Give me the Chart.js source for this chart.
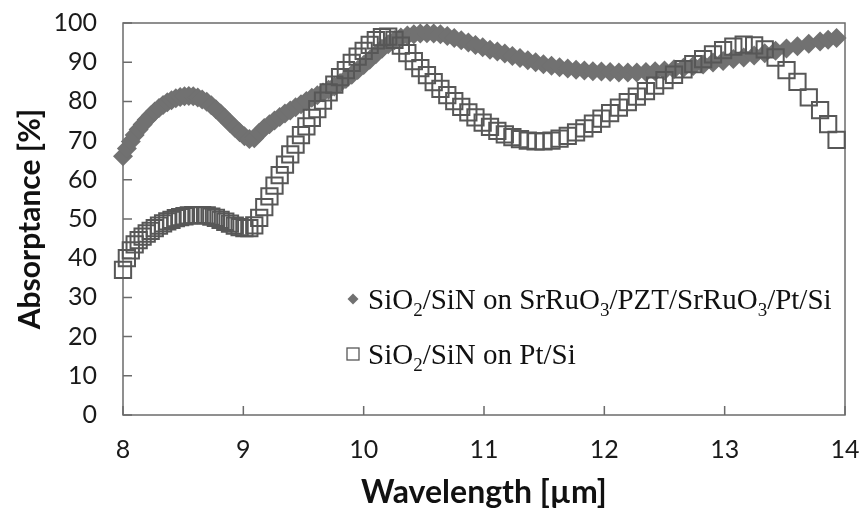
<!DOCTYPE html>
<html>
<head>
<meta charset="utf-8">
<script src="https://cdn.jsdelivr.net/npm/chart.js@4/dist/chart.umd.min.js"></script>
<style>
  html, body { margin: 0; padding: 0; background: #fff; }
  #wrap { width: 864px; height: 520px; }
</style>
</head>
<body>
<div id="wrap"><canvas id="c" width="864" height="520"></canvas></div>
<script>
// Wavelength grid of the measurement [µm]
const wavelength = [
  8.000, 8.032, 8.065, 8.097, 8.130, 8.163, 8.197, 8.230, 8.264, 8.299,
  8.333, 8.368, 8.403, 8.439, 8.475, 8.511, 8.547, 8.584, 8.621, 8.658,
  8.696, 8.734, 8.772, 8.811, 8.850, 8.889, 8.929, 8.969, 9.009, 9.050,
  9.091, 9.132, 9.174, 9.217, 9.259, 9.302, 9.346, 9.390, 9.434, 9.479,
  9.524, 9.569, 9.615, 9.662, 9.709, 9.756, 9.804, 9.852, 9.901, 9.950,
  10.000, 10.050, 10.101, 10.152, 10.204, 10.256, 10.309, 10.363, 10.417, 10.471,
  10.526, 10.582, 10.638, 10.695, 10.753, 10.811, 10.870, 10.929, 10.989, 11.050,
  11.111, 11.173, 11.236, 11.299, 11.364, 11.429, 11.494, 11.561, 11.628, 11.696,
  11.765, 11.834, 11.905, 11.976, 12.048, 12.121, 12.195, 12.270, 12.346, 12.422,
  12.500, 12.579, 12.658, 12.739, 12.821, 12.903, 12.987, 13.072, 13.158, 13.245,
  13.333, 13.423, 13.514, 13.605, 13.699, 13.793, 13.860, 13.930
];

// Absorptance [%] of SiO2/SiN on SrRuO3/PZT/SrRuO3/Pt/Si
const absorptanceOnPZT = [
  66.0, 68.0, 69.8, 71.4, 72.8, 74.1, 75.3, 76.4, 77.4, 78.3,
  79.1, 79.8, 80.3, 80.8, 81.1, 81.3, 81.4, 81.3, 81.0, 80.5,
  79.9, 79.0, 78.0, 76.9, 75.7, 74.5, 73.3, 72.1, 71.1, 70.4,
  70.6, 72.0, 73.2, 74.2, 75.1, 76.0, 76.9, 77.7, 78.5, 79.3,
  80.1, 80.9, 81.6, 82.3, 83.0, 83.8, 84.7, 85.7, 86.8, 88.0,
  89.3, 90.6, 92.0, 93.4, 94.6, 95.6, 96.3, 96.8, 97.1, 97.3,
  97.4, 97.3, 97.1, 96.7, 96.2, 95.6, 95.0, 94.4, 93.8, 93.2,
  92.7, 92.2, 91.6, 91.1, 90.5, 90.0, 89.5, 89.1, 88.7, 88.4,
  88.1, 87.9, 87.7, 87.6, 87.5, 87.4, 87.4, 87.4, 87.5, 87.7,
  87.9, 88.2, 88.6, 89.0, 89.4, 89.9, 90.3, 90.8, 91.2, 91.7,
  92.3, 92.9, 93.5, 94.1, 94.7, 95.3, 95.7, 96.2
];

// Absorptance [%] of SiO2/SiN on Pt/Si
const absorptanceOnPt = [
  37.0, 40.0, 42.0, 43.5, 44.6, 45.5, 46.3, 47.0, 47.7, 48.3,
  48.9, 49.4, 49.8, 50.2, 50.5, 50.7, 50.9, 51.0, 51.0, 51.0,
  50.9, 50.6, 50.3, 49.8, 49.3, 48.8, 48.3, 47.9, 47.7, 47.7,
  48.4, 50.3, 53.0, 55.8, 58.5, 61.2, 63.9, 66.5, 69.0, 71.4,
  73.6, 75.8, 78.0, 80.2, 82.3, 84.3, 86.2, 88.0, 89.8, 91.4,
  92.9, 94.4, 95.6, 96.4, 96.5, 95.7, 94.2, 92.3, 90.3, 88.5,
  86.7, 84.9, 83.2, 81.6, 80.1, 78.6, 77.2, 75.9, 74.6, 73.5,
  72.5, 71.6, 70.9, 70.4, 70.0, 69.8, 69.8, 70.0, 70.5, 71.2,
  72.1, 73.1, 74.3, 75.6, 77.0, 78.4, 79.8, 81.2, 82.6, 84.0,
  85.4, 86.8, 88.2, 89.5, 90.8, 92.0, 93.1, 94.0, 94.5, 94.3,
  93.3, 91.2, 88.0, 85.0, 81.0, 77.8, 74.2, 70.2
];

const xTicks = [8, 9, 10, 11, 12, 13, 14];
const yTicks = [0, 10, 20, 30, 40, 50, 60, 70, 80, 90, 100];

// Legend entries as runs of normal text and subscripts
const legendPZT = [['SiO', false], ['2', true], ['/SiN on SrRuO', false], ['3', true],
                   ['/PZT/SrRuO', false], ['3', true], ['/Pt/Si', false]];
const legendPt = [['SiO', false], ['2', true], ['/SiN on Pt/Si', false]];

const DIAMOND = '#717171';
const SQUARE = '#575757';
const AXIS = '#6b6b6b';

const toPoints = (xs, ys) => xs.map((x, i) => ({ x: x, y: ys[i] }));

// Keep the plot box fixed: no extra room reserved for edge labels
function fixBox(s, size) {
  if (s.isHorizontal()) s.height = size; else s.width = size;
  s.paddingTop = 0;
  s.paddingBottom = 0;
  s.paddingLeft = 0;
  s.paddingRight = 0;
}

// Box frame with inward tick marks
const framePlugin = {
  id: 'frame',
  beforeDatasetsDraw(chart) {
    const { ctx, chartArea: a, scales } = chart;
    ctx.save();
    ctx.strokeStyle = AXIS;
    ctx.lineWidth = 1.5;
    ctx.strokeRect(a.left, a.top, a.right - a.left, a.bottom - a.top);
    ctx.beginPath();
    yTicks.forEach(v => {
      const py = scales.y.getPixelForValue(v);
      ctx.moveTo(a.left, py);
      ctx.lineTo(a.left + 9, py);
    });
    xTicks.forEach(v => {
      const px = scales.x.getPixelForValue(v);
      ctx.moveTo(px, a.bottom);
      ctx.lineTo(px, a.bottom - 9);
    });
    ctx.stroke();
    ctx.restore();
  }
};

// In-plot legend with chemical subscripts
function drawRuns(ctx, runs, x, y) {
  runs.forEach(([t, sub]) => {
    ctx.font = sub ? '19px "Liberation Serif"' : '29px "Liberation Serif"';
    ctx.fillText(t, x, sub ? y + 7 : y);
    x += ctx.measureText(t).width;
  });
}
const legendPlugin = {
  id: 'subLegend',
  afterDatasetsDraw(chart) {
    const { ctx, chartArea: a } = chart;
    const x0 = a.left + 230;
    const cy1 = a.top + 276;
    const cy2 = cy1 + 55;
    ctx.save();
    ctx.fillStyle = DIAMOND;
    ctx.beginPath();
    ctx.moveTo(x0, cy1 - 5.5);
    ctx.lineTo(x0 + 5.5, cy1);
    ctx.lineTo(x0, cy1 + 5.5);
    ctx.lineTo(x0 - 5.5, cy1);
    ctx.closePath();
    ctx.fill();
    ctx.strokeStyle = SQUARE;
    ctx.lineWidth = 1.3;
    ctx.strokeRect(x0 - 6, cy2 - 6, 12, 12);
    ctx.fillStyle = '#111';
    ctx.textBaseline = 'alphabetic';
    drawRuns(ctx, legendPZT, x0 + 15, cy1 + 10);
    drawRuns(ctx, legendPt, x0 + 15, cy2 + 10);
    ctx.restore();
  }
};

new Chart(document.getElementById('c'), {
  type: 'scatter',
  data: {
    datasets: [
      {
        label: 'SiO2/SiN on SrRuO3/PZT/SrRuO3/Pt/Si',
        data: toPoints(wavelength, absorptanceOnPZT),
        pointStyle: 'rectRot',
        pointRadius: 10,
        backgroundColor: DIAMOND,
        borderColor: DIAMOND,
        borderWidth: 0,
        showLine: false,
        clip: false,
        order: 2
      },
      {
        label: 'SiO2/SiN on Pt/Si',
        data: toPoints(wavelength, absorptanceOnPt),
        pointStyle: 'rect',
        pointRadius: 11.5,
        backgroundColor: 'rgba(0,0,0,0)',
        borderColor: SQUARE,
        borderWidth: 2,
        showLine: false,
        clip: false,
        order: 1
      }
    ]
  },
  options: {
    responsive: false,
    devicePixelRatio: 1,
    animation: false,
    events: [],
    layout: { autoPadding: false, padding: { left: 0, right: 19, top: 23, bottom: 0 } },
    plugins: { legend: { display: false }, tooltip: { enabled: false } },
    scales: {
      x: {
        type: 'linear',
        min: 8,
        max: 14,
        afterBuildTicks: s => { s.ticks = xTicks.map(v => ({ value: v })); },
        afterFit: s => fixBox(s, 105),
        grid: { display: false, drawTicks: false },
        border: { display: false },
        ticks: { padding: 20, color: '#1a1a1a', font: { family: 'Lato', size: 25 } },
        title: {
          display: true,
          text: 'Wavelength [µm]',
          color: '#111',
          font: { family: 'Lato', size: 32, weight: 'bold' },
          padding: { top: 0, bottom: 8 }
        }
      },
      y: {
        type: 'linear',
        min: 0,
        max: 100,
        afterBuildTicks: s => { s.ticks = yTicks.map(v => ({ value: v })); },
        afterFit: s => fixBox(s, 123),
        grid: { display: false, drawTicks: false },
        border: { display: false },
        ticks: { padding: 26, color: '#1a1a1a', font: { family: 'Lato', size: 25 } },
        title: {
          display: true,
          text: 'Absorptance [%]',
          color: '#111',
          font: { family: 'Lato', size: 30, weight: 'bold' },
          padding: { top: 12, bottom: 0 }
        }
      }
    }
  },
  plugins: [framePlugin, legendPlugin]
});
</script>
</body>
</html>
